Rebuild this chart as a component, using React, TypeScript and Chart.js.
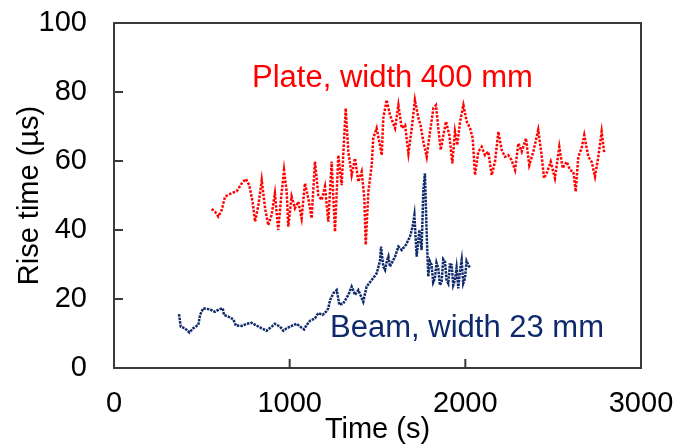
import React, { useEffect, useRef } from "react";
import { Chart, registerables } from "chart.js";

Chart.register(...registerables);

// ---- Data ----
const plateTime = [556, 575, 594, 613, 632, 670, 698, 727, 751, 770, 789, 803, 822, 841, 860, 878, 897, 916, 935, 951, 968, 983, 992, 1011, 1030, 1049, 1068, 1087, 1106, 1125, 1144, 1163, 1182, 1201, 1220, 1239, 1258, 1277, 1296, 1319, 1334, 1353, 1372, 1391, 1410, 1425, 1433, 1448, 1467, 1476, 1495, 1514, 1524, 1533, 1552, 1571, 1600, 1619, 1638, 1657, 1676, 1695, 1713, 1733, 1745, 1761, 1780, 1799, 1818, 1833, 1846, 1860, 1875, 1890, 1909, 1926, 1941, 1954, 1970, 1989, 2008, 2027, 2042, 2055, 2074, 2093, 2112, 2131, 2150, 2169, 2188, 2207, 2226, 2244, 2263, 2283, 2302, 2321, 2345, 2364, 2387, 2415, 2434, 2448, 2466, 2486, 2510, 2535, 2554, 2577, 2596, 2615, 2628, 2643, 2662, 2677, 2700, 2719, 2738, 2757, 2776, 2791];
const plateRise = [46.1, 45.3, 43.9, 45.8, 49.7, 50.7, 51.2, 53.5, 54.8, 53, 48.2, 42.4, 47.2, 54.5, 46.3, 41.4, 44.3, 50.6, 40, 49.2, 57.4, 51.1, 41, 49.7, 46.3, 48.2, 43.4, 53.5, 49.2, 43.4, 59.8, 50.1, 48.7, 52.6, 42.4, 59.8, 39.5, 61.7, 53, 75.3, 62.7, 55.9, 60.8, 54, 56.9, 49.2, 35.7, 51.1, 58.8, 66.6, 69.5, 64.6, 61.7, 72.4, 77.7, 73.3, 69.5, 76.2, 69.5, 70.4, 62.2, 69.5, 77.7, 72.4, 70.4, 65.6, 61.2, 68.5, 75.3, 76.2, 69.5, 63.2, 67.5, 71.4, 67.5, 59.3, 68.5, 64.6, 71.4, 76.2, 71.4, 69.5, 66.6, 55.9, 62.7, 64.1, 61.7, 62.7, 55.9, 59.8, 68.5, 63.2, 61.2, 61.7, 60.3, 57.4, 65.1, 62.7, 66.6, 58.8, 62.7, 69, 61.7, 55, 56.9, 59.8, 55, 64.1, 57.9, 59.8, 57.4, 56.9, 51.1, 61.2, 63.7, 67.5, 61.2, 59.8, 55.5, 61.2, 68.5, 62.2];

const beamTime = [370, 380, 404, 429, 451, 480, 490, 508, 546, 575, 599, 619, 626, 651, 679, 694, 727, 755, 784, 812, 841, 869, 898, 916, 945, 964, 983, 1011, 1040, 1059, 1082, 1097, 1116, 1144, 1163, 1188, 1207, 1220, 1230, 1248, 1268, 1283, 1305, 1334, 1353, 1372, 1391, 1419, 1438, 1467, 1495, 1514, 1520, 1533, 1543, 1552, 1562, 1571, 1590, 1600, 1619, 1638, 1662, 1685, 1700, 1710, 1723, 1738, 1751, 1761, 1770, 1780, 1789, 1798, 1808, 1817, 1827, 1836, 1846, 1855, 1865, 1874, 1884, 1893, 1903, 1912, 1922, 1931, 1941, 1950, 1960, 1969, 1979, 1988, 1998, 2007, 2017, 2027];
const beamRise = [15.6, 12, 11.5, 10.3, 11.5, 12.5, 15.4, 17.3, 17, 16.3, 17, 17.3, 15.4, 14.9, 14.1, 12.3, 12.2, 12.8, 13.1, 12.3, 11.5, 10.8, 12, 12.8, 12, 10.8, 11.5, 12.2, 12.8, 12, 11.2, 12.5, 13.7, 14.4, 15.9, 15.4, 16.3, 17.3, 19.7, 21.6, 22.6, 18.3, 18.7, 21.2, 23.6, 21.2, 22.6, 19.2, 23.6, 25.5, 27.4, 31, 35.2, 29.4, 28.4, 30.8, 32.3, 29.4, 31.3, 32.3, 35.2, 34.2, 35.7, 38.1, 41, 44.3, 32.3, 40, 34.2, 51.6, 56.4, 39, 26.5, 31, 29.9, 24.8, 26, 30.5, 28.9, 24, 25, 31.5, 30.8, 25.5, 24.5, 30, 29.9, 24, 25.5, 29, 23.1, 28, 31.3, 24.5, 26, 31, 29.9, 28.9];

const xTicks = [0, 1000, 2000, 3000];
const yTicks = [0, 20, 40, 60, 80, 100];

const plateLabel = "Plate, width 400 mm";
const beamLabel = "Beam, width 23 mm";

const RED = "#ff0000";
const NAVY = "#0f2a6b";
const FONT = "'Liberation Sans', Arial, sans-serif";

function toPoints(xs: number[], ys: number[]) {
  const n = Math.min(xs.length, ys.length);
  const out: { x: number; y: number }[] = [];
  for (let i = 0; i < n; i++) out.push({ x: xs[i], y: ys[i] });
  return out;
}

const framePlugin = {
  id: "frameAndLabels",
  afterDraw(chart: any) {
    const { ctx, chartArea, scales } = chart;
    const xs = scales.x;
    const ys = scales.y;
    ctx.save();
    ctx.strokeStyle = "#3a3a3a";
    ctx.lineWidth = 2;
    ctx.strokeRect(chartArea.left, chartArea.top, chartArea.right - chartArea.left, chartArea.bottom - chartArea.top);
    const tl = 9;
    ctx.beginPath();
    xTicks.forEach((v) => {
      const px = xs.getPixelForValue(v);
      ctx.moveTo(px, chartArea.bottom);
      ctx.lineTo(px, chartArea.bottom - tl);
    });
    yTicks.forEach((v) => {
      const py = ys.getPixelForValue(v);
      ctx.moveTo(chartArea.left, py);
      ctx.lineTo(chartArea.left + tl, py);
    });
    ctx.stroke();

    ctx.font = `31px ${FONT}`;
    ctx.textBaseline = "alphabetic";
    ctx.fillStyle = RED;
    ctx.textAlign = "center";
    ctx.fillText(plateLabel, xs.getPixelForValue(1585), ys.getPixelForValue(81.4));
    ctx.fillStyle = NAVY;
    ctx.textAlign = "left";
    ctx.fillText(beamLabel, xs.getPixelForValue(1230), ys.getPixelForValue(9.0));
    ctx.restore();
  },
};

function zeroPadding(s: any) {
  s.paddingLeft = 0;
  s.paddingRight = 0;
  s.paddingTop = 0;
  s.paddingBottom = 0;
}

export default function App() {
  const ref = useRef<HTMLCanvasElement | null>(null);

  useEffect(() => {
    document.body.style.margin = "0";
    const canvas = ref.current;
    if (!canvas) return;
    const tickFont = { family: FONT, size: 29 };
    const chart = new Chart(canvas, {
      type: "scatter",
      data: {
        datasets: [
          {
            label: plateLabel,
            data: toPoints(plateTime, plateRise),
            showLine: true,
            borderColor: RED,
            backgroundColor: RED,
            borderWidth: 2.5,
            borderDash: [2.5, 1.5],
            pointRadius: 0,
            tension: 0,
          },
          {
            label: beamLabel,
            data: toPoints(beamTime, beamRise),
            showLine: true,
            borderColor: NAVY,
            backgroundColor: NAVY,
            borderWidth: 2.5,
            borderDash: [2.5, 1],
            pointRadius: 0,
            tension: 0,
          },
        ],
      },
      options: {
        responsive: false,
        animation: false,
        devicePixelRatio: 1,
        layout: { padding: { top: 23, right: 38, bottom: 0, left: 0 } },
        plugins: { legend: { display: false }, tooltip: { enabled: false } },
        scales: {
          x: {
            type: "linear",
            min: 0,
            max: 3000,
            afterBuildTicks: (s: any) => {
              s.ticks = xTicks.map((v) => ({ value: v }));
            },
            afterFit: (s: any) => {
              s.height = 80;
              zeroPadding(s);
            },
            grid: { display: false, drawTicks: false, tickLength: 0 },
            border: { display: false },
            ticks: {
              font: tickFont,
              color: "#000",
              padding: 19,
              maxRotation: 0,
              autoSkip: false,
              callback: (v: any) => String(v),
            },
            title: {
              display: true,
              text: "Time (s)",
              font: tickFont,
              color: "#000",
              padding: { top: 0, bottom: 1 },
            },
          },
          y: {
            type: "linear",
            min: 0,
            max: 100,
            afterBuildTicks: (s: any) => {
              s.ticks = yTicks.map((v) => ({ value: v }));
            },
            afterFit: (s: any) => {
              s.width = 114;
              zeroPadding(s);
            },
            grid: { display: false, drawTicks: false, tickLength: 0 },
            border: { display: false },
            ticks: {
              font: tickFont,
              color: "#000",
              padding: 27,
              autoSkip: false,
              callback: (v: any) => String(v),
            },
            title: {
              display: true,
              text: "Rise time (µs)",
              font: tickFont,
              color: "#000",
              padding: { top: 13, bottom: 0 },
            },
          },
        },
      } as any,
      plugins: [framePlugin],
    });
    return () => chart.destroy();
  }, []);

  return (
    <div style={{ width: 679, height: 448 }}>
      <canvas ref={ref} width={679} height={448} style={{ display: "block", width: 679, height: 448 }} />
    </div>
  );
}
